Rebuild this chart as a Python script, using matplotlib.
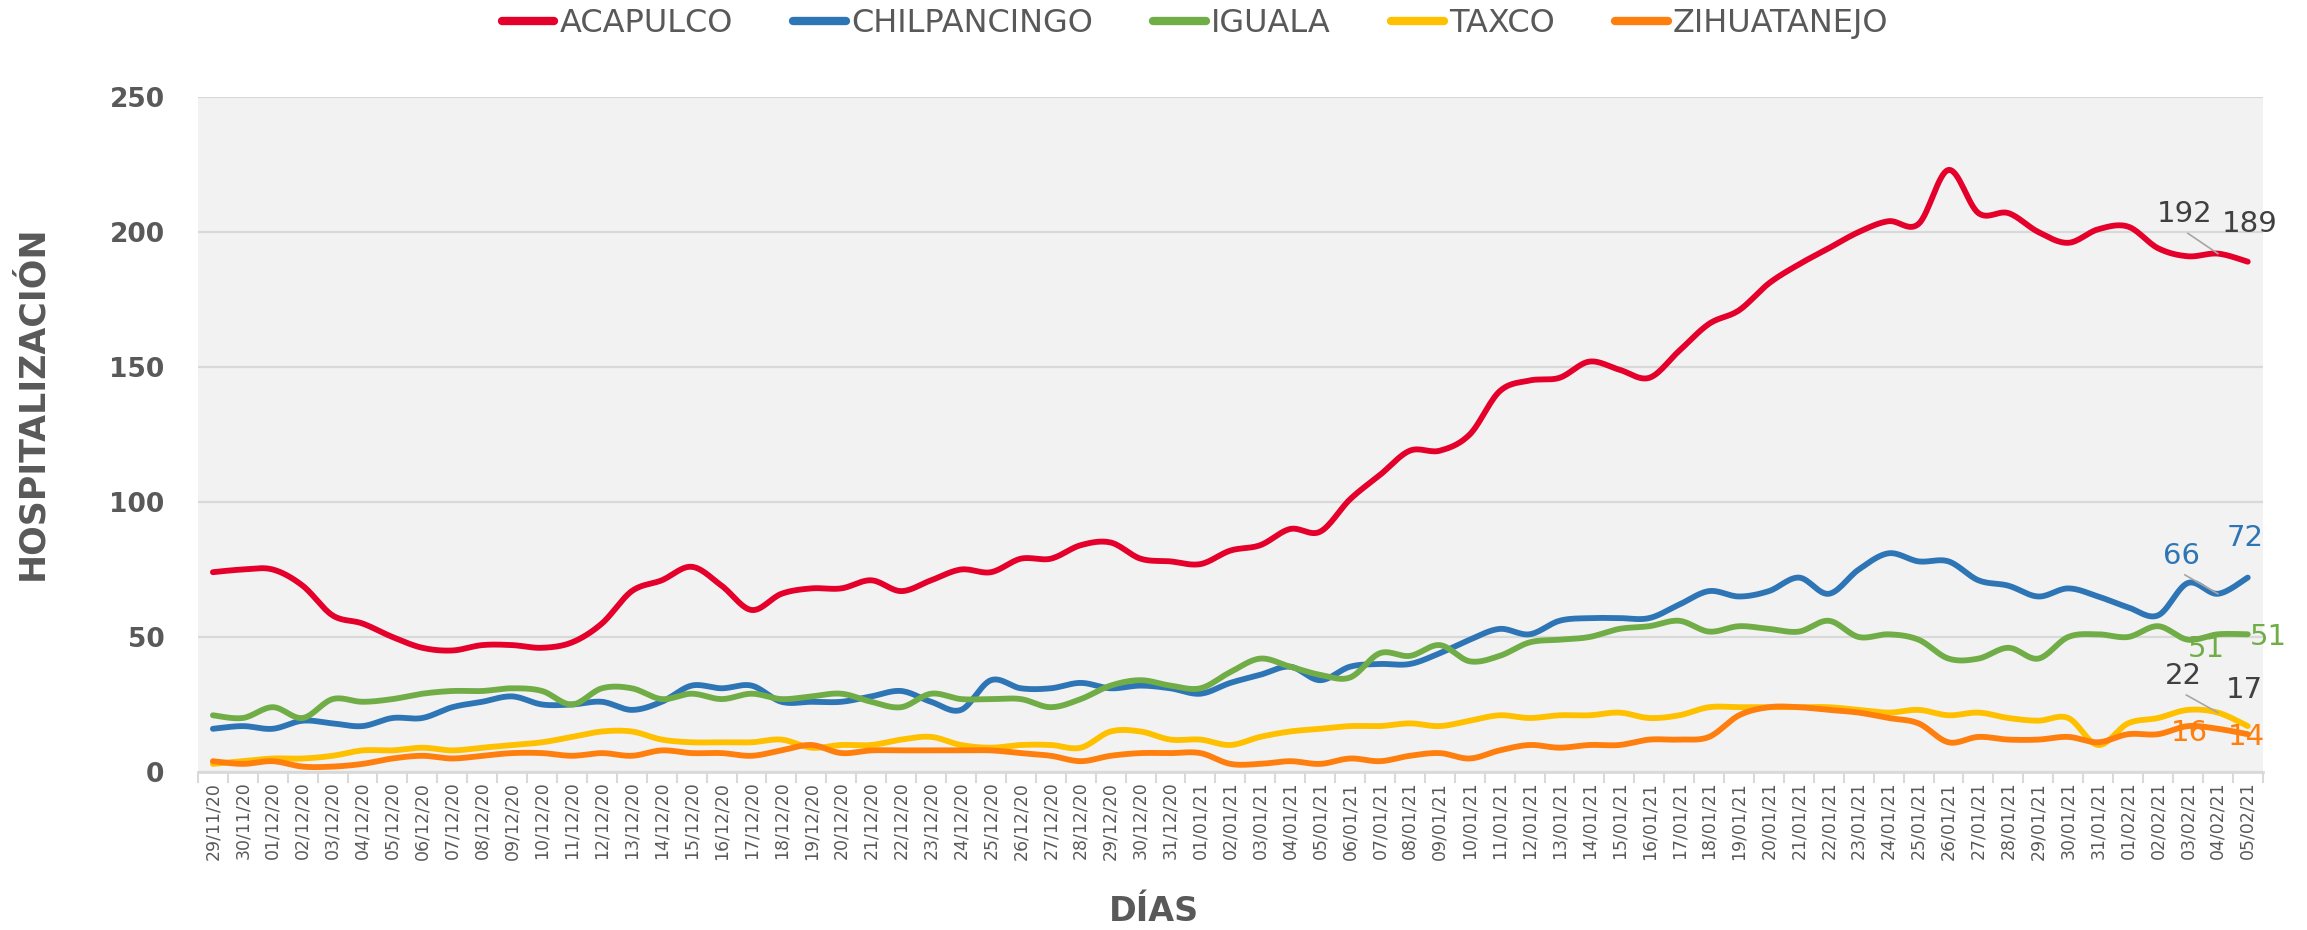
#!/usr/bin/env python3
"""
Hospitalizaciones COVID por ciudad (Guerrero), 29/11/20 - 05/02/21
"""

import matplotlib
matplotlib.use("Agg")
import matplotlib.pyplot as plt
import numpy as np

# ---- data -------------------------------------------------------------
dias = [
    "29/11/20", "30/11/20",
    "01/12/20", "02/12/20", "03/12/20", "04/12/20", "05/12/20", "06/12/20", "07/12/20",
    "08/12/20", "09/12/20", "10/12/20", "11/12/20", "12/12/20", "13/12/20", "14/12/20",
    "15/12/20", "16/12/20", "17/12/20", "18/12/20", "19/12/20", "20/12/20", "21/12/20",
    "22/12/20", "23/12/20", "24/12/20", "25/12/20", "26/12/20", "27/12/20", "28/12/20",
    "29/12/20", "30/12/20", "31/12/20",
    "01/01/21", "02/01/21", "03/01/21", "04/01/21", "05/01/21", "06/01/21", "07/01/21",
    "08/01/21", "09/01/21", "10/01/21", "11/01/21", "12/01/21", "13/01/21", "14/01/21",
    "15/01/21", "16/01/21", "17/01/21", "18/01/21", "19/01/21", "20/01/21", "21/01/21",
    "22/01/21", "23/01/21", "24/01/21", "25/01/21", "26/01/21", "27/01/21", "28/01/21",
    "29/01/21", "30/01/21", "31/01/21",
    "01/02/21", "02/02/21", "03/02/21", "04/02/21", "05/02/21",
]

acapulco = [74, 75, 75, 69, 58, 55, 50, 46, 45, 47, 47, 46, 48, 55, 67, 71, 76, 69, 60, 66,
            68, 68, 71, 67, 71, 75, 74, 79, 79, 84, 85, 79, 78, 77, 82, 84, 90, 89, 101, 110,
            119, 119, 125, 141, 145, 146, 152, 149, 146, 156, 166, 171, 181, 188, 194, 200,
            204, 203, 223, 207, 207, 200, 196, 201, 202, 194, 191, 192, 189]
chilpancingo = [16, 17, 16, 19, 18, 17, 20, 20, 24, 26, 28, 25, 25, 26, 23, 26, 32, 31,
                32, 26, 26, 26, 28, 30, 26, 23, 34, 31, 31, 33, 31, 32, 31, 29, 33,
                36, 39, 34, 39, 40, 40, 44, 49, 53, 51, 56, 57, 57, 57, 62, 67, 65,
                67, 72, 66, 75, 81, 78, 78, 71, 69, 65, 68, 65, 61, 58, 70, 66, 72]
iguala = [21, 20, 24, 20, 27, 26, 27, 29, 30, 30, 31, 30, 25, 31, 31, 27, 29, 27,
          29, 27, 28, 29, 26, 24, 29, 27, 27, 27, 24, 27, 32, 34, 32, 31, 37,
          42, 39, 36, 35, 44, 43, 47, 41, 43, 48, 49, 50, 53, 54, 56, 52, 54,
          53, 52, 56, 50, 51, 49, 42, 42, 46, 42, 50, 51, 50, 54, 49, 51, 51]
taxco = [3, 4, 5, 5, 6, 8, 8, 9, 8, 9, 10, 11, 13, 15, 15, 12, 11, 11,
         11, 12, 9, 10, 10, 12, 13, 10, 9, 10, 10, 9, 15, 15, 12, 12, 10,
         13, 15, 16, 17, 17, 18, 17, 19, 21, 20, 21, 21, 22, 20, 21, 24, 24,
         24, 24, 24, 23, 22, 23, 21, 22, 20, 19, 20, 10, 18, 20, 23, 22, 17]
zihuatanejo = [4, 3, 4, 2, 2, 3, 5, 6, 5, 6, 7, 7, 6, 7, 6, 8, 7, 7,
               6, 8, 10, 7, 8, 8, 8, 8, 8, 7, 6, 4, 6, 7, 7, 7, 3,
               3, 4, 3, 5, 4, 6, 7, 5, 8, 10, 9, 10, 10, 12, 12, 13, 21,
               24, 24, 23, 22, 20, 18, 11, 13, 12, 12, 13, 11, 14, 14, 17, 16, 14]

series_names = ["ACAPULCO", "CHILPANCINGO", "IGUALA", "TAXCO", "ZIHUATANEJO"]
series_values = [acapulco, chilpancingo, iguala, taxco, zihuatanejo]
series_colors = ["#E4002B", "#2E75B6", "#70AD47", "#FFC000", "#FF7F0E"]
label_colors = ["#404040", "#2E75B6", "#70AD47", "#404040", "#FF7F0E"]

TEXT = "#595959"


def smooth(y, steps=16):
    """Catmull-Rom curve through the points (like Excel's smoothed line)."""
    y = np.asarray(y, dtype=float)
    x = np.arange(len(y), dtype=float)
    px = np.concatenate([[x[0]], x, [x[-1]]])
    py = np.concatenate([[y[0]], y, [y[-1]]])
    t = np.linspace(0, 1, steps, endpoint=False)
    xs, ys = [], []
    for i in range(1, len(px) - 2):
        for p, out in ((px, xs), (py, ys)):
            p0, p1, p2, p3 = p[i - 1], p[i], p[i + 1], p[i + 2]
            out.append(0.5 * ((2 * p1) + (-p0 + p2) * t
                              + (2 * p0 - 5 * p1 + 4 * p2 - p3) * t ** 2
                              + (-p0 + 3 * p1 - 3 * p2 + p3) * t ** 3))
    xs.append([x[-1]])
    ys.append([y[-1]])
    return np.concatenate(xs), np.concatenate(ys)


fig = plt.figure(figsize=(23.07, 9.30), dpi=100)
ax = fig.add_axes([0.0858, 0.1699, 0.8950, 0.7258])
ax.set_facecolor("#F2F2F2")

for name, vals, col in zip(series_names, series_values, series_colors):
    sx, sy = smooth(vals)
    ax.plot(sx, sy, color=col, lw=4.2, solid_capstyle="round", label=name, zorder=3)

# data labels on the last two days
n = len(dias)
ann = [
    # (series idx, point idx, dx, dy, leader)
    (0, n - 2, -1.1, 14.5, True), (0, n - 1, 0.05, 14, False),
    (1, n - 2, -1.2, 14, True), (1, n - 1, -0.1, 14.5, False),
    (2, n - 2, -0.4, -5.3, False), (2, n - 1, 0.7, -1, False),
    (3, n - 2, -1.15, 13.5, True), (3, n - 1, -0.1, 13.5, False),
    (4, n - 2, -0.95, -1.4, False), (4, n - 1, -0.05, -1.2, False),
]
for si, pi, dx, dy, leader in ann:
    v = series_values[si][pi]
    ax.text(pi + dx, v + dy, str(v), color=label_colors[si], fontsize=21,
            ha="center", va="center", zorder=5)
    if leader:
        ax.plot([pi + dx + 0.1, pi], [v + dy - 7, v], color="#A6A6A6", lw=1.2, zorder=4)

ax.set_xlim(-0.5, n - 0.5)
ax.set_ylim(0, 250)
ax.set_yticks(range(0, 251, 50))
ax.yaxis.grid(True, color="#D9D9D9", lw=1.6)
ax.set_axisbelow(True)
for s in ["left", "right", "top"]:
    ax.spines[s].set_visible(False)
ax.spines["bottom"].set_color("#D9D9D9")
ax.spines["bottom"].set_linewidth(2)

ax.set_xticks(range(n))
ax.set_xticklabels(dias, rotation=90, fontsize=12.5, color=TEXT)
ax.set_xticks(np.arange(-0.5, n, 1.0), minor=True)
ax.tick_params(axis="x", which="major", length=0, pad=7)
ax.tick_params(axis="x", which="minor", length=8, color="#D9D9D9", width=1.5)
ax.tick_params(axis="y", length=0, pad=24, labelsize=19, labelcolor=TEXT)
for lbl in ax.get_yticklabels():
    lbl.set_fontweight("bold")

fig.text(0.014, 0.567, "HOSPITALIZACIÓN", rotation=90, ha="center", va="center",
         fontsize=25, fontweight="bold", color=TEXT)
fig.text(0.5, 0.02, "DÍAS", ha="center", va="center",
         fontsize=24, fontweight="bold", color=TEXT)

leg = fig.legend(loc="upper center", bbox_to_anchor=(0.518, 1.022), ncol=5, frameon=False,
                 fontsize=23, handlelength=1.65, handletextpad=0.15, columnspacing=1.9)
for t in leg.get_texts():
    t.set_color(TEXT)
for h in leg.get_lines():
    h.set_linewidth(6)

fig.savefig("out.png", dpi=100)
